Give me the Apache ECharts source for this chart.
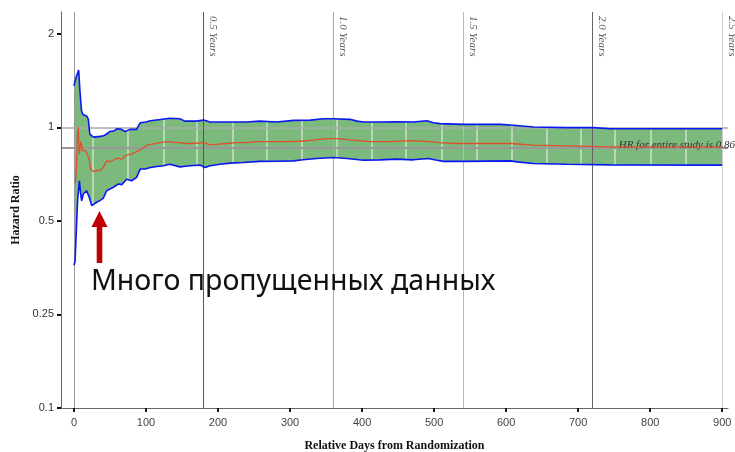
<!DOCTYPE html>
<html><head><meta charset="utf-8">
<script src="https://cdn.jsdelivr.net/npm/echarts@6/dist/echarts.min.js"></script>
<style>html,body{margin:0;padding:0;background:#fff}#c{width:735px;height:452px}</style>
</head><body><div id="c"></div>
<script>
// ---- data ----
const xTickValues = [0, 100, 200, 300, 400, 500, 600, 700, 800, 900];
const yTickValues = [0.125, 0.25, 0.5, 1, 2];
const yTickLabels = ['0.1', '0.25', '0.5', '1', '2'];
const yearDays = [180, 360, 540, 720, 900];
const yearLabels = ['0.5 Years', '1.0 Years', '1.5 Years', '2.0 Years', '2.5 Years'];
const overallHR = 0.86;
const overallLabel = 'HR for entire study is 0.86';
const bandGridDays = [26, 75, 125, 171, 220, 268, 316, 365, 413, 461, 510, 559, 608, 656, 704, 751, 801, 850];

const upperDays = [0,3,6.5,8.3,10.5,12.5,18,20,22,27,36,41,45,50,56,60,66,71,78,87,92,100,106,120,133,147,154,170,180,189,212,240,258,281,305,328,346,360,383,393,402,425,448,471,490,499,508,540,592,610,638,684,721,744,900];
const upperValues = [1.36,1.45,1.53,1.31,1.13,1.10,1.085,1.06,0.95,0.93,0.935,0.94,0.95,0.97,0.975,0.99,0.985,0.97,0.985,0.985,1.035,1.04,1.05,1.06,1.07,1.065,1.047,1.047,1.055,1.04,1.04,1.04,1.047,1.04,1.053,1.055,1.066,1.066,1.061,1.047,1.04,1.04,1.042,1.04,1.05,1.035,1.028,1.022,1.022,1.015,1.002,0.998,0.998,0.99,0.99];

const lowerDays = [0,1.5,3.5,5,7.5,9.3,10.7,12.9,15.3,17.6,21.3,24.6,26.8,31.5,36,40.7,45.4,50,54.6,61.5,66.3,73.2,80,87,92,99,106,115,124,133,147,161,175,182,189,203,217,235,258,282,305,318,337,360,379,402,425,448,471,492,504,513,541,606,615,638,684,744,900];
const lowerValues = [0.36,0.37,0.48,0.58,0.673,0.61,0.58,0.61,0.61,0.625,0.595,0.56,0.556,0.574,0.581,0.592,0.625,0.633,0.641,0.657,0.654,0.681,0.673,0.69,0.734,0.734,0.743,0.748,0.752,0.761,0.746,0.752,0.756,0.743,0.752,0.761,0.767,0.771,0.777,0.778,0.78,0.786,0.794,0.80,0.794,0.784,0.786,0.79,0.786,0.794,0.784,0.777,0.777,0.78,0.774,0.765,0.761,0.757,0.756];

const hrDays = [2,3.5,5,6,7.4,8.3,9.3,11,12.1,15.3,17.6,21,23.2,26.8,31.5,36,40.7,45.4,50,54.6,61.5,66.3,73.2,80,87,94,101,110,120,129,140,147,156,166,180,189,212,226,240,254,272,295,314,332,351,365,383,411,439,467,494,508,527,564,606,638,684,744,900];
const hrValues = [0.66,0.75,0.95,1.0,0.82,0.85,0.90,0.87,0.84,0.845,0.83,0.79,0.735,0.72,0.725,0.728,0.743,0.78,0.775,0.785,0.796,0.79,0.815,0.82,0.835,0.85,0.875,0.885,0.893,0.90,0.895,0.893,0.887,0.887,0.893,0.878,0.887,0.893,0.893,0.90,0.90,0.90,0.902,0.909,0.92,0.92,0.911,0.90,0.90,0.906,0.90,0.893,0.887,0.887,0.887,0.876,0.871,0.865,0.865];

const annotationText = 'Много пропущенных данных';

// ---- chart ----
const X_MIN = -18, X_MAX = 908, Y_MIN = 0.125, Y_MAX = 2.35;
const zip = (a, b) => a.map((d, i) => [d, b[i]]);
const upper = zip(upperDays, upperValues);
const lower = zip(lowerDays, lowerValues);
const hr = zip(hrDays, hrValues);
const yearColors = ['#555', '#a8a8a8', '#b8b8b8', '#666', '#cfcfcf'];

const chart = echarts.init(document.getElementById('c'), null, {renderer: 'canvas'});
chart.setOption({
  animation: false,
  backgroundColor: '#fff',
  grid: {left: 61, right: 7, top: 12, bottom: 44, containLabel: false, outerBoundsMode: 'none'},
  xAxis: {
    type: 'value', min: X_MIN, max: X_MAX, z: 10,
    name: 'Relative Days from Randomization', nameLocation: 'middle', nameGap: 32,
    nameTextStyle: {fontFamily: 'Liberation Serif', fontWeight: 'bold', fontSize: 12, color: '#111'},
    axisLine: {onZero: false, lineStyle: {color: '#666', width: 1}},
    axisTick: {customValues: xTickValues, length: 4, lineStyle: {color: '#111', width: 2}},
    axisLabel: {customValues: xTickValues, margin: 9, fontFamily: 'Liberation Sans Narrow, Liberation Sans', fontSize: 11, color: '#444'},
    splitLine: {show: false}
  },
  yAxis: {
    type: 'log', logBase: 2, min: Y_MIN, max: Y_MAX, z: 10,
    name: 'Hazard Ratio', nameLocation: 'middle', nameGap: 30,
    nameTextStyle: {fontFamily: 'Liberation Serif', fontWeight: 'bold', fontSize: 12, color: '#111'},
    axisLine: {show: true, onZero: false, lineStyle: {color: '#666', width: 1}},
    axisTick: {show: true, customValues: yTickValues, length: 4, lineStyle: {color: '#111', width: 2}},
    axisLabel: {
      customValues: yTickValues, margin: 7, fontFamily: 'Liberation Sans', fontSize: 11, color: '#333',
      formatter: v => { const i = yTickValues.findIndex(t => Math.abs(t - v) < 1e-6); return i >= 0 ? yTickLabels[i] : ''; }
    },
    splitLine: {show: false}
  },
  series: [
    {type: 'line', data: upper, symbol: 'none', z: 1, silent: true,
     lineStyle: {width: 0}, areaStyle: {color: '#7bb97d', opacity: 1, origin: 'start'}},
    {type: 'line', data: lower, symbol: 'none', z: 2, silent: true,
     lineStyle: {width: 0}, areaStyle: {color: '#ffffff', opacity: 1, origin: 'start'}},
    {type: 'line', data: [], z: 3, silent: true,
     markLine: {silent: true, symbol: ['none', 'none'], label: {show: false},
       lineStyle: {color: 'rgba(255,255,255,0.6)', width: 1.5, type: 'solid'},
       data: bandGridDays.map(d => ({xAxis: d}))}},
    {type: 'line', data: [], z: 4, silent: true,
     markLine: {silent: true, symbol: ['none', 'none'],
       label: {show: false},
       data: [
         {xAxis: 0, lineStyle: {color: '#999', width: 1, type: 'solid'}},
         {yAxis: 1, lineStyle: {color: '#aaa', width: 1.5, type: 'solid'}},
         {yAxis: overallHR, lineStyle: {color: '#999', width: 2, type: 'solid'},
          label: {show: true, formatter: overallLabel, position: 'insideEndTop', distance: [-7, -3],
                  fontFamily: 'Liberation Serif', fontStyle: 'italic', fontSize: 11, color: '#333'}}
       ].concat(yearDays.map((d, i) => [
         {coord: [d, Y_MAX], lineStyle: {color: yearColors[i], width: 1, type: 'solid'},
          label: {show: true, formatter: yearLabels[i], position: 'insideStartTop', distance: 4,
                  fontFamily: 'Liberation Serif', fontStyle: 'italic', fontSize: 11, color: '#555'}},
         {coord: [d, Y_MIN]}
       ]))}},
    {type: 'line', data: upper, symbol: 'none', z: 5, silent: true, lineStyle: {color: '#0a18f2', width: 1.6}},
    {type: 'line', data: lower, symbol: 'none', z: 5, silent: true, lineStyle: {color: '#0a18f2', width: 1.6}},
    {type: 'line', data: hr, symbol: 'none', z: 6, silent: true, lineStyle: {color: '#e0502e', width: 1.3}}
  ],
  graphic: [
    {type: 'polygon', z: 100, shape: {points: [[99.5, 211], [107.5, 227], [102.3, 227], [102.3, 263], [96.7, 263], [96.7, 227], [91.5, 227]]},
     style: {fill: '#c00000'}},
    {type: 'text', z: 100, left: 91, top: 267,
     style: {text: annotationText, font: '28.5px "Noto Sans", "Open Sans", sans-serif', fill: '#111'}}
  ]
});
</script></body></html>
